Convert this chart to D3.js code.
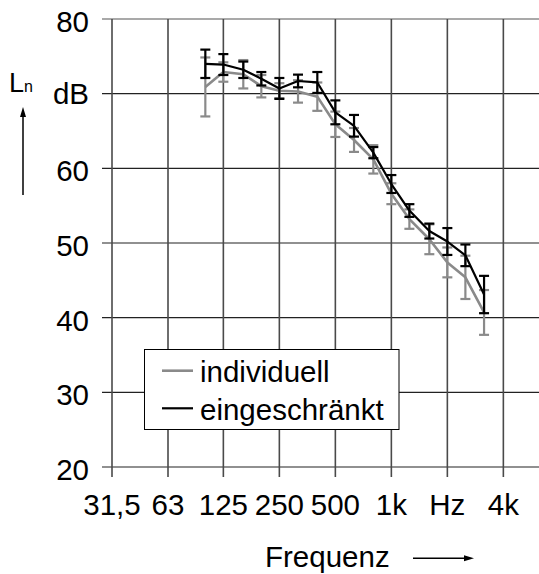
<!DOCTYPE html>
<html>
<head>
<meta charset="utf-8">
<script src="https://cdn.jsdelivr.net/npm/d3@7"></script>
<style>
  body { margin: 0; background: #fff; }
  svg { display: block; }
  text { font-family: "Liberation Sans", Arial, sans-serif; fill: #000; }
</style>
</head>
<body>
<svg id="chart" width="539" height="574"></svg>
<script>
// Third-octave band centre frequencies (Hz)
const bands = [100, 125, 160, 200, 250, 315, 400, 500, 630, 800, 1000, 1250, 1600, 2000, 2500, 3150];

// Mean level L_n (dB) and spread per band
const individuell      = [70.9, 72.9, 72.6, 71.0, 70.4, 70.3, 69.6, 65.9, 63.8, 61.2, 56.6, 53.2, 50.5, 47.4, 45.4, 40.7];
const individuellErr   = [3.95, 1.3, 1.9, 1.5, 1.0, 1.5, 1.9, 1.7, 1.6, 1.9, 1.4, 1.3, 2.0, 2.0, 2.9, 3.0];
const eingeschraenkt    = [74.0, 73.9, 73.2, 72.0, 70.7, 71.7, 71.5, 67.5, 65.7, 62.1, 57.9, 54.35, 51.6, 50.2, 48.35, 43.1];
const eingeschraenktErr = [1.9, 1.4, 1.1, 0.9, 1.4, 0.85, 1.4, 1.6, 1.45, 0.75, 1.2, 0.85, 1.0, 1.8, 1.45, 2.5];

// Axis ticks
const xTickValues = [31.5, 63, 125, 250, 500, 1000, 2000, 4000];
const xTickLabels = ["31,5", "63", "125", "250", "500", "1k", "Hz", "4k"];
const yTickValues = [20, 30, 40, 50, 60, 70, 80];
const yTickLabels = ["20", "30", "40", "50", "60", "dB", "80"];

const seriesNames = ["individuell", "eingeschränkt"];
const seriesColors = ["#8a8a8a", "#000000"];

const svg = d3.select("#chart");
const fontSize = 29.5;

const plotLeft = 112, plotTop = 19, plotBottom = 467, plotRight = 539;
const x = d3.scaleLog().domain([31.5, 8000]).range([plotLeft, plotLeft + 56 * Math.log2(8000 / 31.5)]);
const y = d3.scaleLinear().domain([20, 80]).range([plotBottom, plotTop]);

// Grid: horizontal lines with left ticks
const grid = svg.append("g");
grid.selectAll("line.h").data(yTickValues).join("line")
  .attr("class", "h")
  .attr("x1", plotLeft - 10).attr("x2", plotRight)
  .attr("y1", d => y(d)).attr("y2", d => y(d))
  .attr("stroke", d => d === 80 ? "#8c8c8c" : "#222")
  .attr("stroke-width", d => d === 80 ? 1.5 : 1.2);

// Grid: vertical lines with bottom ticks
grid.selectAll("line.v").data(xTickValues).join("line")
  .attr("class", "v")
  .attr("x1", d => x(d)).attr("x2", d => x(d))
  .attr("y1", plotTop).attr("y2", plotBottom + 10)
  .attr("stroke", "#4a4a4a")
  .attr("stroke-width", 1.6);

// Y tick labels
svg.append("g").selectAll("text").data(yTickValues).join("text")
  .attr("x", 89)
  .attr("y", (d, i) => y(d) + (yTickLabels[i] === "dB" ? 10.5 : 13))
  .attr("text-anchor", "end")
  .attr("font-size", fontSize)
  .text((d, i) => yTickLabels[i]);

// X tick labels
svg.append("g").selectAll("text").data(xTickValues).join("text")
  .attr("x", d => x(d))
  .attr("y", 515)
  .attr("text-anchor", "middle")
  .attr("font-size", fontSize)
  .text((d, i) => xTickLabels[i]);

// Series: lines with error bars
const seriesData = [
  { name: seriesNames[0], color: seriesColors[0], values: individuell, errs: individuellErr, width: 2.6 },
  { name: seriesNames[1], color: seriesColors[1], values: eingeschraenkt, errs: eingeschraenktErr, width: 2.2 }
];

const line = d3.line().x(d => x(d.f)).y(d => y(d.v));
const capHalf = 5;

seriesData.forEach(s => {
  const pts = bands.map((f, i) => ({ f, v: s.values[i], e: s.errs[i] }));
  const g = svg.append("g");
  g.append("path").datum(pts)
    .attr("d", line)
    .attr("fill", "none")
    .attr("stroke", s.color)
    .attr("stroke-width", s.width)
    .attr("stroke-linejoin", "round");
  const eb = g.selectAll("g.err").data(pts).join("g").attr("class", "err")
    .attr("stroke", s.color).attr("stroke-width", 2.2);
  eb.append("line")
    .attr("x1", d => x(d.f)).attr("x2", d => x(d.f))
    .attr("y1", d => y(d.v + d.e)).attr("y2", d => y(d.v - d.e));
  eb.append("line")
    .attr("x1", d => x(d.f) - capHalf).attr("x2", d => x(d.f) + capHalf)
    .attr("y1", d => y(d.v + d.e)).attr("y2", d => y(d.v + d.e));
  eb.append("line")
    .attr("x1", d => x(d.f) - capHalf).attr("x2", d => x(d.f) + capHalf)
    .attr("y1", d => y(d.v - d.e)).attr("y2", d => y(d.v - d.e));
});

// Legend
const legend = svg.append("g");
legend.append("rect")
  .attr("x", 144.5).attr("y", 349.5).attr("width", 254.5).attr("height", 80)
  .attr("fill", "#fff").attr("stroke", "#000").attr("stroke-width", 1);
seriesData.forEach((s, i) => {
  const ly = [370.7, 408.3][i];
  legend.append("line")
    .attr("x1", 162).attr("x2", 193).attr("y1", ly).attr("y2", ly)
    .attr("stroke", s.color).attr("stroke-width", s.width);
  legend.append("text")
    .attr("x", 200).attr("y", ly + 11.5)
    .attr("font-size", fontSize)
    .text(s.name);
});

// Y axis title L_n with upward arrow
const yt = svg.append("text").attr("x", 9).attr("y", 91.7).attr("font-size", 27);
yt.append("tspan").text("L");
yt.append("tspan").attr("font-size", 16).attr("dx", 0).text("n");
svg.append("line").attr("x1", 23).attr("x2", 23).attr("y1", 195).attr("y2", 114)
  .attr("stroke", "#000").attr("stroke-width", 1.5);
svg.append("path").attr("d", "M23,107 L20,117 L26,117 Z").attr("fill", "#000");

// X axis title with right arrow
svg.append("text").attr("x", 265).attr("y", 567).attr("font-size", fontSize).text("Frequenz");
svg.append("line").attr("x1", 413).attr("x2", 466).attr("y1", 558.3).attr("y2", 558.3)
  .attr("stroke", "#000").attr("stroke-width", 1.5);
svg.append("path").attr("d", "M474,558.3 L464,555.3 L464,561.3 Z").attr("fill", "#000");
</script>
</body>
</html>
